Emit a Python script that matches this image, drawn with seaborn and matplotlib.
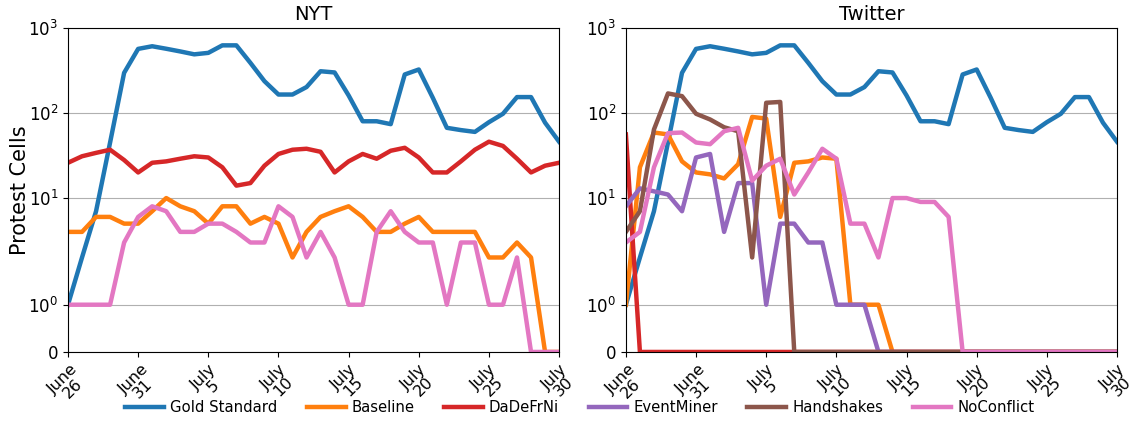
import matplotlib
matplotlib.use('Agg')
import matplotlib.pyplot as plt
from matplotlib.ticker import NullLocator
import seaborn as sns
import pandas as pd

# one point per day, June 26 .. July 31 (labels keep the original's naming)
days = list(range(36))
tick_pos = [0, 5, 10, 15, 20, 25, 30, 35]
tick_labels = ['June\n26', 'June\n31', 'July\n5', 'July\n10',
               'July\n15', 'July\n20', 'July\n25', 'July\n30']

gold = [1, 2, 7, 45, 297, 568, 610, 570, 530, 490, 510, 625,
        625, 389, 237, 165, 165, 202, 310, 300, 161, 80, 80, 74,
        284, 325, 151, 67, 63, 60, 78, 98, 154, 154, 77, 46]

# NYT
nyt_baseline = [4, 4, 6, 6, 5, 5, 7, 10, 8, 7, 5, 8,
                8, 5, 6, 5, 2, 4, 6, 7, 8, 6, 4, 4,
                5, 6, 4, 4, 4, 4, 2, 2, 3, 2, 0, 0]
nyt_dadefrni = [26, 31, 34, 37, 28, 20, 26, 27, 29, 31, 30, 23,
                14, 15, 24, 33, 37, 38, 35, 20, 27, 33, 29, 36,
                39, 30, 20, 20, 27, 37, 46, 41, 29, 20, 24, 26]
nyt_noconflict = [1, 1, 1, 1, 3, 6, 8, 7, 4, 4, 5, 5,
                  4, 3, 3, 8, 6, 2, 4, 2, 1, 1, 4, 7,
                  4, 3, 3, 1, 3, 3, 1, 1, 2, 0, 0, 0]

# Twitter
tw_baseline = [1, 23, 59, 56, 27, 20, 19, 17, 25, 90, 86, 6,
               26, 27, 30, 29, 1, 1, 1, 0, 0, 0, 0, 0,
               0, 0, 0, 0, 0, 0, 0, 0, 0, 0, 0, 0]
tw_dadefrni = [56, 0, 0, 0, 0, 0, 0, 0, 0, 0, 0, 0,
               0, 0, 0, 0, 0, 0, 0, 0, 0, 0, 0, 0,
               0, 0, 0, 0, 0, 0, 0, 0, 0, 0, 0, 0]
tw_eventminer = [8, 13, 12, 11, 7, 30, 33, 4, 15, 15, 1, 5,
                 5, 3, 3, 1, 1, 1, 0, 0, 0, 0, 0, 0,
                 0, 0, 0, 0, 0, 0, 0, 0, 0, 0, 0, 0]
tw_handshakes = [4, 7, 64, 170, 158, 98, 84, 68, 61, 2, 132, 135,
                 0, 0, 0, 0, 0, 0, 0, 0, 0, 0, 0, 0,
                 0, 0, 0, 0, 0, 0, 0, 0, 0, 0, 0, 0]
tw_noconflict = [3, 4, 23, 58, 59, 45, 43, 61, 67, 16, 24, 29,
                 11, 20, 38, 29, 5, 5, 2, 10, 10, 9, 9, 6,
                 0, 0, 0, 0, 0, 0, 0, 0, 0, 0, 0, 0]

methods = ['Gold Standard', 'Baseline', 'DaDeFrNi', 'EventMiner', 'Handshakes', 'NoConflict']
tab = sns.color_palette('tab10')
colors = dict(zip(methods, [tab[0], tab[1], tab[3], tab[4], tab[5], tab[6]]))

nyt = {'Gold Standard': gold, 'Baseline': nyt_baseline,
       'DaDeFrNi': nyt_dadefrni, 'NoConflict': nyt_noconflict}
tw = {'Gold Standard': gold, 'Baseline': tw_baseline, 'DaDeFrNi': tw_dadefrni,
      'EventMiner': tw_eventminer, 'Handshakes': tw_handshakes, 'NoConflict': tw_noconflict}


def to_long(series):
    rows = []
    for name, vals in series.items():
        for d, v in zip(days, vals):
            rows.append({'day': d, 'cells': v, 'method': name})
    return pd.DataFrame(rows)


fig, axes = plt.subplots(1, 2, figsize=(11.37, 4.21), dpi=100)
plt.subplots_adjust(left=0.0598, right=0.9824, bottom=0.164, top=0.9335, wspace=0.136)

for ax, data, title in zip(axes, [nyt, tw], ['NYT', 'Twitter']):
    df = to_long(data)
    sns.lineplot(data=df, x='day', y='cells', hue='method',
                 hue_order=[m for m in methods if m in data],
                 palette=colors, linewidth=3.2, ax=ax, legend=True)
    ax.set_yscale('symlog', linthresh=2)
    ax.set_ylim(0, 1000)
    ax.set_xlim(0, 35)
    ax.set_yticks([0, 1, 10, 100, 1000])
    ax.set_yticklabels(['0', '$10^0$', '$10^1$', '$10^2$', '$10^3$'])
    ax.yaxis.set_minor_locator(NullLocator())
    ax.set_xticks(tick_pos)
    ax.set_xticklabels(tick_labels, rotation=45, linespacing=0.85)
    ax.tick_params(axis='y', labelsize=12)
    ax.tick_params(axis='x', labelsize=11.5)
    ax.grid(axis='y', color='#b0b0b0', linewidth=0.8)
    ax.set_title(title, fontsize=14)
    ax.set_xlabel('')
    ax.set_ylabel('')

axes[0].set_ylabel('Protest Cells', fontsize=15, labelpad=-1)

handles, labels = axes[1].get_legend_handles_labels()
for ax in axes:
    ax.get_legend().remove()
fig.legend(handles, labels, loc='center', ncol=6, frameon=False,
           fontsize=10.7, bbox_to_anchor=(0.51, 0.031), handlelength=2.6,
           handletextpad=0.4, columnspacing=2.0)

plt.savefig('out.png', dpi=100)
